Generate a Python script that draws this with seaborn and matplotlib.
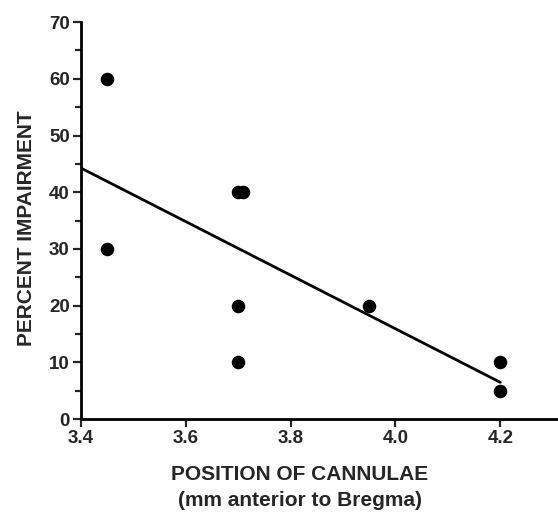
import numpy as np
import pandas as pd
import matplotlib
matplotlib.use("Agg")
import matplotlib.pyplot as plt
from matplotlib.ticker import MultipleLocator
import seaborn as sns

# cannula position (mm anterior to Bregma) and percent impairment
position = [3.45, 3.45, 3.70, 3.71, 3.70, 3.70, 3.95, 4.20, 4.20]
impairment = [60, 30, 40, 40, 20, 10, 20, 10, 5]

df = pd.DataFrame({"position": position, "impairment": impairment})

sns.set_style("ticks")
plt.rcParams["font.family"] = ["Liberation Sans", "DejaVu Sans"]
plt.rcParams["font.weight"] = "bold"

fig = plt.figure(figsize=(5.58, 5.13), dpi=100)
ax = fig.add_axes([0.145, 0.183, 0.855, 0.774])

# fit line runs over 3.4 - 4.2, so set that range before regplot
ax.set_xlim(3.4, 4.2)
sns.regplot(data=df, x="position", y="impairment", ax=ax, ci=None, truncate=False,
            scatter_kws={"s": 95, "color": "black", "alpha": 1, "linewidths": 0},
            line_kws={"color": "black", "lw": 2.0})

ax.set_xlim(3.4, 4.31)
ax.set_ylim(0, 70)
ax.set_xticks([3.4, 3.6, 3.8, 4.0, 4.2])
ax.set_xticklabels(["3.4", "3.6", "3.8", "4.0", "4.2"])
ax.yaxis.set_major_locator(MultipleLocator(10))
ax.yaxis.set_minor_locator(MultipleLocator(5))
ax.tick_params(axis="both", which="major", length=6, width=1.6, labelsize=13.5,
               direction="out", pad=2)
ax.tick_params(axis="y", which="minor", length=4, width=1.6)
for lab in ax.get_xticklabels() + ax.get_yticklabels():
    lab.set_fontweight("bold")

sns.despine(ax=ax)
for side in ["left", "bottom"]:
    ax.spines[side].set_linewidth(2.0)
    ax.spines[side].set_color("black")

ax.set_xlabel("POSITION OF CANNULAE\n(mm anterior to Bregma)", fontsize=15, fontweight="bold",
              linespacing=1.5)
ax.xaxis.set_label_coords(0.459, -0.115)
ax.set_ylabel("PERCENT IMPAIRMENT", fontsize=15, fontweight="bold")
ax.yaxis.set_label_coords(-0.095, 0.48)

fig.savefig("out.png", dpi=100)
